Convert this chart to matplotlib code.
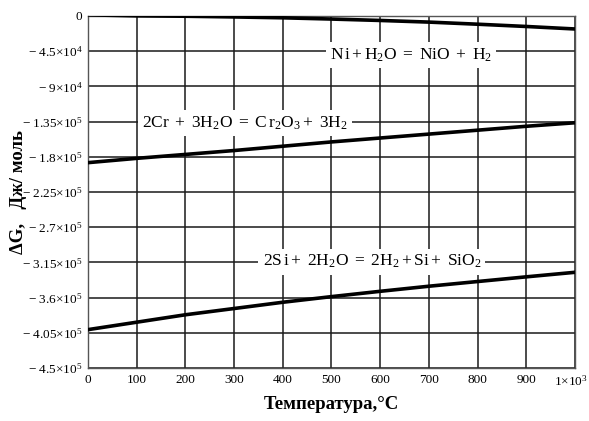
import matplotlib
matplotlib.use("Agg")
import matplotlib.pyplot as plt
import matplotlib.transforms as mtransforms
import numpy as np

plt.rcParams['font.family'] = ['Liberation Serif', 'DejaVu Serif']
plt.rcParams['mathtext.fontset'] = 'custom'
plt.rcParams['mathtext.rm'] = 'Liberation Serif'
plt.rcParams['mathtext.it'] = 'Liberation Serif:italic'
plt.rcParams['mathtext.bf'] = 'Liberation Serif:bold'

# Data
temperature = [0, 100, 200, 300, 400, 500, 600, 700, 800, 900, 1000]
dg_ni = [1500, 150, -300, -1200, -2300, -3900, -5700, -7800, -10500, -13400, -16600]
dg_cr = [-187500, -182000, -177000, -172000, -166500, -161000, -156000, -151000, -146000, -141000, -136500]
dg_si = [-401000, -391500, -382000, -374000, -366000, -358800, -352000, -345500, -339500, -333500, -327700]

x_ticks = [0, 100, 200, 300, 400, 500, 600, 700, 800, 900, 1000]
x_ticklabels = ['0', '100', '200', '300', '400', '500', '600', '700', '800', '900', r'$\mathregular{1{\times}10^{3}}$']
y_ticks = [0, -45000, -90000, -135000, -180000, -225000, -270000, -315000, -360000, -405000, -450000]
y_ticklabels = ['0', r'$\mathregular{-\ 4.5{\times}10^{4}}$', r'$\mathregular{-\ 9{\times}10^{4}}$',
                r'$\mathregular{-\ 1.35{\times}10^{5}}$', r'$\mathregular{-\ 1.8{\times}10^{5}}$',
                r'$\mathregular{-\ 2.25{\times}10^{5}}$', r'$\mathregular{-\ 2.7{\times}10^{5}}$',
                r'$\mathregular{-\ 3.15{\times}10^{5}}$', r'$\mathregular{-\ 3.6{\times}10^{5}}$',
                r'$\mathregular{-\ 4.05{\times}10^{5}}$', r'$\mathregular{-\ 4.5{\times}10^{5}}$']

labels = [r'$\mathregular{N\,i + H_2O\ =\ NiO\ +\ H_2}$',
          r'$\mathregular{2Cr\ +\ 3H_2O\ =\ C\,r_2O_3 + \ 3H_2}$',
          r'$\mathregular{2S\,i + \ 2H_2O\ =\ 2H_2 + Si + \ SiO_2}$']
label_pos = [(663, -49900), (322, -137200), (583, -314100)]

fig = plt.figure(figsize=(5.89, 4.21), dpi=100)
ax = fig.add_axes([0.1494, 0.126, 0.8268, 0.836])

ax.set_xlim(0, 1000)
ax.set_ylim(-450000, 0)
ax.set_xticks(x_ticks)
ax.set_xticklabels(x_ticklabels, fontsize=9.5)
ax.set_yticks(y_ticks)
ax.set_yticklabels(y_ticklabels, fontsize=9.5)
ax.tick_params(length=0, pad=4)
ax.grid(True, color='#1a1a1a', linewidth=1.1)
ax.set_axisbelow(True)
for s in ax.spines.values():
    s.set_color('#555555')
    s.set_linewidth(1.0)

# keep last x tick label inside the figure
last = ax.get_xticklabels()[-1]
last.set_horizontalalignment('right')
last.set_transform(last.get_transform() + mtransforms.ScaledTranslation(13 / 100, 0, fig.dpi_scale_trans))

for ys in (dg_ni, dg_cr, dg_si):
    ax.plot(temperature, ys, color='black', linewidth=2.6, zorder=3)

for txt, (tx, ty) in zip(labels, label_pos):
    ax.text(tx, ty, txt, fontsize=12.5, ha='center', va='center', zorder=4,
            bbox=dict(facecolor='white', edgecolor='none', pad=3))

ax.set_xlabel('Температура,°C', fontsize=13.5, fontweight='bold', labelpad=6)
ax.set_ylabel('ΔG,   Дж/ моль', fontsize=13.5, fontweight='bold')
ax.yaxis.set_label_coords(-0.125, 0.5)

fig.savefig('out.png', dpi=100)
